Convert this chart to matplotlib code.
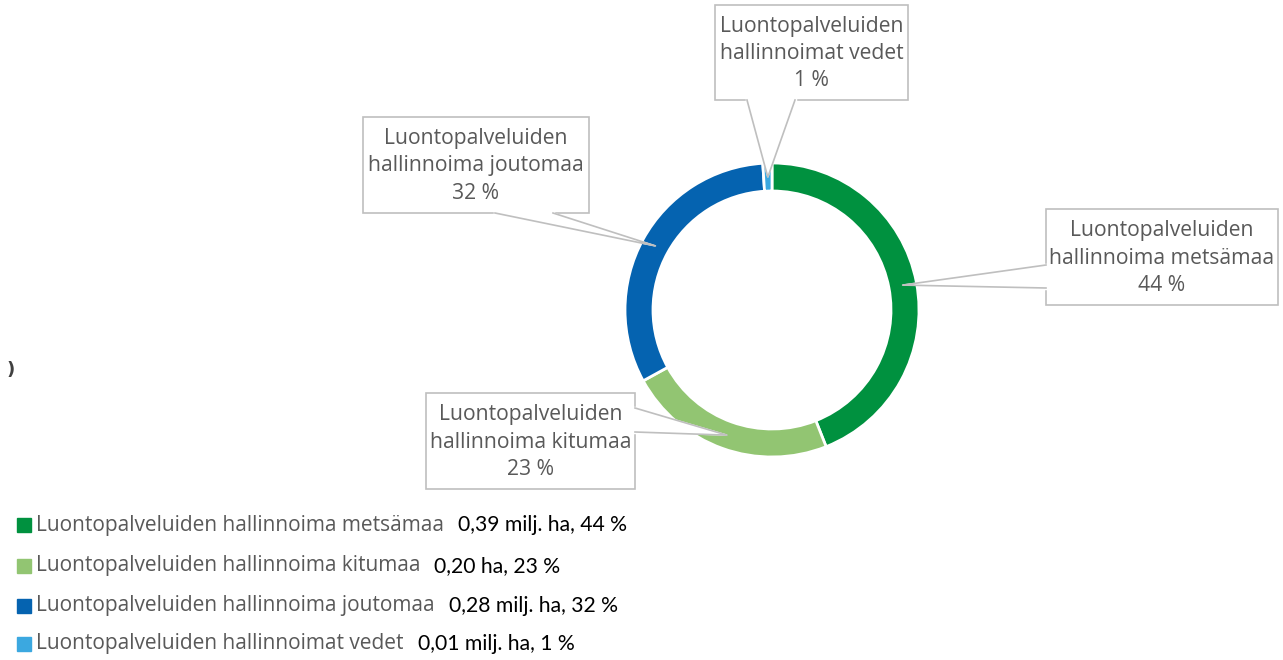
import matplotlib
matplotlib.use("Agg")
import matplotlib.pyplot as plt
import numpy as np

# data
labels = ["Luontopalveluiden hallinnoima metsämaa",
          "Luontopalveluiden hallinnoima kitumaa",
          "Luontopalveluiden hallinnoima joutomaa",
          "Luontopalveluiden hallinnoimat vedet"]
callout_labels = ["Luontopalveluiden\nhallinnoima metsämaa",
                  "Luontopalveluiden\nhallinnoima kitumaa",
                  "Luontopalveluiden\nhallinnoima joutomaa",
                  "Luontopalveluiden\nhallinnoimat vedet"]
shares = [44, 23, 32, 1]
notes = ["0,39 milj. ha, 44 %", "0,20 ha, 23 %", "0,28 milj. ha, 32 %", "0,01 milj. ha, 1 %"]
colors = ["#00913f", "#92c572", "#0563b0", "#3ba8e0"]

W, H = 1283, 660
gray = "#595959"
edge = "#bfbfbf"
main_font = "Open Sans"


def Y(y):
    # image row -> axis y
    return H - y


fig = plt.figure(figsize=(W / 100, H / 100), dpi=100)
ax = fig.add_axes([0, 0, 1, 1])

# donut
cx, cy, r, ring = 772, Y(310), 147, 28
wedges, _ = ax.pie(shares, colors=colors, startangle=90, counterclock=False,
                   radius=r, center=(cx, cy), frame=True,
                   wedgeprops=dict(width=ring, edgecolor="white", linewidth=2))
ax.set_xlim(0, W)
ax.set_ylim(0, H)
ax.set_aspect("equal")
ax.axis("off")

# callout boxes: (x0, y0, x1, y1) in image px, side of pointer, base positions
boxes = [
    ((1046, 209, 1278, 305), "left", (265, 288)),
    ((426, 393, 635, 489), "right", (408, 432)),
    ((363, 117, 589, 213), "bottom", (495, 553)),
    ((715, 5, 908, 100), "bottom", (747, 795)),
]

for w, (box, side, base), txt, s in zip(wedges, boxes, callout_labels, shares):
    mid = np.deg2rad((w.theta1 + w.theta2) / 2)
    rm = r - ring / 2
    tip = (cx + rm * np.cos(mid), cy + rm * np.sin(mid))
    x0, y0, x1, y1 = box
    ax.add_patch(plt.Rectangle((x0, Y(y1)), x1 - x0, y1 - y0, facecolor="white",
                               edgecolor=edge, linewidth=1.2, zorder=3))
    if side == "left":
        b1, b2 = (x0, Y(base[0])), (x0, Y(base[1]))
    elif side == "right":
        b1, b2 = (x1, Y(base[0])), (x1, Y(base[1]))
    else:
        b1, b2 = (base[0], Y(y1)), (base[1], Y(y1))
    ax.fill([b1[0], tip[0], b2[0]], [b1[1], tip[1], b2[1]], color="white", zorder=3)
    ax.plot([b1[0], b2[0]], [b1[1], b2[1]], color="white", lw=2.5, zorder=4)
    ax.plot([b1[0], tip[0], b2[0]], [b1[1], tip[1], b2[1]], color=edge, lw=1.2, zorder=4)
    ax.text((x0 + x1) / 2, Y((y0 + y1) / 2 + 1), f"{txt}\n{s} %", ha="center", va="center",
            fontsize=15.2, color=gray, family=main_font, linespacing=1.4, zorder=5)

# legend
rows = [525, 566, 606, 644]
fig.canvas.draw()
rend = fig.canvas.get_renderer()
for lab, note, c, yr in zip(labels, notes, colors, rows):
    ax.add_patch(plt.Rectangle((17, Y(yr) - 7), 14, 14, color=c))
    t = ax.text(36, Y(yr), lab, ha="left", va="center", fontsize=15.0,
                color=gray, family=main_font)
    bb = t.get_window_extent(renderer=rend)
    ax.text(bb.x1 + 14, Y(yr), note, ha="left", va="center", fontsize=15.2,
            color="black", family="Lato")

ax.text(6, Y(370), ")", ha="left", va="center", fontsize=13, color="#404040",
        fontweight="bold")

fig.savefig("out.png", dpi=100)
